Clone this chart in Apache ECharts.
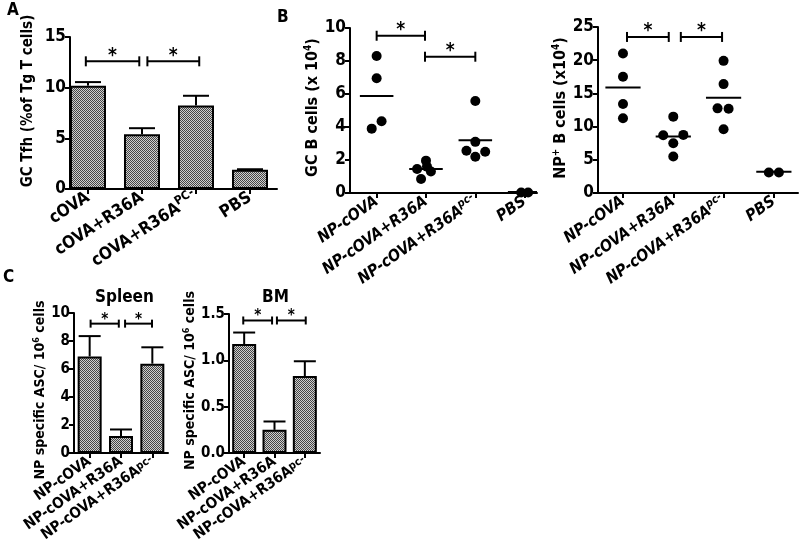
<!DOCTYPE html>
<html><head><meta charset="utf-8">
<script src="https://cdn.jsdelivr.net/npm/echarts@6/dist/echarts.min.js"></script>
<style>html,body{margin:0;padding:0;background:#fff}#c{width:800px;height:546px}</style>
</head><body><div id="c"></div>
<script>
// ---------- Data ----------
// Panel A: GC Tfh (% of Tg T cells)
const catsA = ['cOVA', 'cOVA+R36A', 'cOVA+R36A{sup|PC-}', 'PBS'];
const meanA = [10.2, 5.4, 8.25, 1.9];
const errA  = [0.35, 0.6, 0.95, 0.05];
const sigA  = [[0.96, 1.95, 12.6], [2.1, 3.06, 12.6]];

// Panel B (left): GC B cells (x10^4)
const catsB = ['NP-cOVA', 'NP-cOVA+R36A', 'NP-cOVA+R36A{sup|pc-}', 'PBS'];
const gcB1 = [8.3, 6.95, 4.35, 3.9];
const gcB2 = [1.96, 1.45, 0.85, 1.6, 1.3];
const gcB3 = [5.58, 3.1, 2.56, 2.5, 2.2];
const gcB4 = [0.03, 0.03];
const gcBJitter = [[0, 0, 0.1, -0.1], [0, -0.18, -0.1, 0.02, 0.1], [0, 0, -0.18, 0.2, 0], [-0.07, 0.07]];
const gcBMean = [5.88, 1.45, 3.2, 0.06];
const sigBL = [[1, 1.98, 9.53], [1.98, 3.0, 8.26]];

// Panel B (right): NP+ B cells (x10^4)
const npB1 = [21.0, 17.5, 13.4, 11.25];
const npB2 = [11.5, 8.7, 8.75, 7.5, 5.5];
const npB3 = [19.9, 16.4, 12.75, 12.7, 9.6];
const npB4 = [3.1, 3.1];
const npBJitter = [[0, 0, 0, 0], [0, -0.2, 0.2, 0, 0], [0, 0, -0.12, 0.1, 0], [-0.1, 0.1]];
const npBMean = [15.9, 8.5, 14.35, 3.2];
const sigBR = [[1.08, 1.91, 23.5], [2.15, 2.97, 23.5]];

// Panel C: NP specific ASC / 10^6 cells
const catsC = ['NP-cOVA', 'NP-cOVA+R36A', 'NP-cOVA+R36A{sup|pc-}'];
const spleenMean = [6.9, 1.22, 6.38];
const spleenErr  = [1.45, 0.46, 1.17];
const sigSpleen  = [[1.03, 1.93, 9.24], [2.13, 2.99, 9.24]];
const bmMean = [1.175, 0.25, 0.83];
const bmErr  = [0.125, 0.09, 0.16];
const sigBM  = [[0.97, 1.92, 1.43], [2.08, 3.03, 1.43]];

// ---------- Helpers ----------
function pickFont(list) {
  const c = document.createElement('canvas').getContext('2d');
  const t = 'NP specific ASC 0123456789';
  c.font = 'bold 20px monospace';
  const base = c.measureText(t).width;
  for (const f of list) {
    c.font = 'bold 20px "' + f + '", monospace';
    if (Math.abs(c.measureText(t).width - base) > 0.5) return f;
  }
  return 'sans-serif';
}
const F = pickFont(['Liberation Sans Narrow', 'Arial Narrow', 'DejaVu Sans Condensed', 'Liberation Sans']);

const pat = document.createElement('canvas');
pat.width = 2; pat.height = 2;
(function () {
  const g = pat.getContext('2d');
  g.fillStyle = '#cfcfcf'; g.fillRect(0, 0, 2, 2);
  g.fillStyle = '#454545'; g.fillRect(0, 0, 1, 1); g.fillRect(1, 1, 1, 1);
})();
const hatch = { image: pat, repeat: 'repeat' };

const supRich = (fs) => ({ sup: { fontSize: fs, fontWeight: 'bold', fontFamily: F, padding: [0, 0, Math.round(fs * 0.9), 0] } });
const supTight = (fs, lh) => ({ sup: { fontSize: fs, lineHeight: fs, fontWeight: 'bold', fontFamily: F, padding: [0, 0, lh - fs, 0] } });

function xAxisDef(grid, min, max, cats, fs, rot, italic, tight) {
  const vals = cats.map((_, i) => i + 1);
  const lab = {
    customValues: vals, rotate: rot, margin: 7, color: '#000',
    showMinLabel: true, showMaxLabel: true, hideOverlap: false,
    fontFamily: F, fontWeight: 'bold', fontSize: fs, fontStyle: italic ? 'italic' : 'normal',
    formatter: (v) => cats[Math.round(v) - 1] || '',
    rich: tight ? supTight(Math.round(fs * 0.7), fs) : supRich(Math.round(fs * 0.7))
  };
  if (tight) lab.lineHeight = fs;
  return {
    type: 'value', gridIndex: grid, min: min, max: max,
    axisLine: { show: true, onZero: false, lineStyle: { color: '#000', width: 2 } },
    axisTick: { show: true, customValues: vals, length: 5, lineStyle: { color: '#000', width: 2 } },
    axisLabel: lab,
    splitLine: { show: false }
  };
}
function yAxisDef(grid, max, interval, name, gap, fs, nfs, shift, fmt) {
  return {
    type: 'value', gridIndex: grid, min: 0, max: max, interval: interval,
    name: name, nameLocation: 'middle', nameRotate: 90, nameGap: gap,
    nameTextStyle: { color: '#000', fontFamily: F, fontWeight: 'bold', fontSize: nfs,
      padding: shift > 0 ? [0, 0, 0, shift] : [0, -shift, 0, 0],
      rich: supRich(Math.round(nfs * 0.65)) },
    axisLine: { show: true, lineStyle: { color: '#000', width: 2 } },
    axisTick: { show: true, length: 5, lineStyle: { color: '#000', width: 2 } },
    axisLabel: { color: '#000', fontFamily: F, fontWeight: 'bold', fontSize: fs, margin: 4, formatter: fmt,
      showMinLabel: true, showMaxLabel: true },
    splitLine: { show: false }
  };
}
function barSeries(i, means, bw) {
  return {
    type: 'bar', xAxisIndex: i, yAxisIndex: i, barWidth: bw,
    data: means.map((v, k) => [k + 1, v]),
    itemStyle: { color: hatch, borderColor: '#000', borderWidth: 2 },
    silent: true, animation: false
  };
}
function errSeries(i, means, errs, cap) {
  return {
    type: 'custom', xAxisIndex: i, yAxisIndex: i, animation: false, silent: true,
    data: means.map((v, k) => [k + 1, v, errs[k]]),
    renderItem: (p, api) => {
      const a = api.coord([api.value(0), api.value(1)]);
      const b = api.coord([api.value(0), api.value(1) + api.value(2)]);
      const st = { stroke: '#000', lineWidth: 2 };
      return { type: 'group', children: [
        { type: 'line', shape: { x1: a[0], y1: a[1], x2: b[0], y2: b[1] }, style: st },
        { type: 'line', shape: { x1: b[0] - cap, y1: b[1], x2: b[0] + cap, y2: b[1] }, style: st }
      ] };
    }
  };
}
function sigSeries(i, sig, h, sfs, lift) {
  return {
    type: 'custom', xAxisIndex: i, yAxisIndex: i, animation: false, silent: true, clip: false,
    data: sig,
    renderItem: (p, api) => {
      const a = api.coord([api.value(0), api.value(2)]);
      const b = api.coord([api.value(1), api.value(2)]);
      const st = { stroke: '#000', lineWidth: 2 };
      return { type: 'group', children: [
        { type: 'line', shape: { x1: a[0], y1: a[1], x2: b[0], y2: b[1] }, style: st },
        { type: 'line', shape: { x1: a[0], y1: a[1] - h, x2: a[0], y2: a[1] + h }, style: st },
        { type: 'line', shape: { x1: b[0], y1: b[1] - h, x2: b[0], y2: b[1] + h }, style: st },
        { type: 'text', style: { text: '*', x: (a[0] + b[0]) / 2, y: a[1] - lift, align: 'center', verticalAlign: 'middle',
          font: 'bold ' + sfs + 'px "' + F + '"', fill: '#000' } }
      ] };
    }
  };
}
function dotSeries(i, groups, jit) {
  const data = [];
  groups.forEach((g, k) => g.forEach((v, j) => data.push([k + 1 + jit[k][j], v])));
  return { type: 'scatter', xAxisIndex: i, yAxisIndex: i, symbolSize: 10, data: data,
    itemStyle: { color: '#000', opacity: 1 }, silent: true, animation: false };
}
function meanSeries(i, means, hw) {
  return {
    type: 'custom', xAxisIndex: i, yAxisIndex: i, animation: false, silent: true, clip: true,
    data: means.map((v, k) => [k + 1, v]),
    renderItem: (p, api) => {
      const a = api.coord([api.value(0) - hw, api.value(1)]);
      const b = api.coord([api.value(0) + hw, api.value(1)]);
      return { type: 'line', shape: { x1: a[0], y1: a[1], x2: b[0], y2: b[1] }, style: { stroke: '#000', lineWidth: 2 } };
    }
  };
}
const txt = (t, x, y, fs) => ({ type: 'text', left: x, top: y, style: { text: t, font: 'bold ' + fs + 'px "' + F + '"', fill: '#000' } });

const option = {
  backgroundColor: '#fff',
  animation: false,
  grid: [
    { left: 70, top: 37, width: 207, height: 152 },
    { left: 350, top: 28, width: 187, height: 165 },
    { left: 598, top: 27, width: 200, height: 166 },
    { left: 74, top: 313, width: 94, height: 140 },
    { left: 229, top: 314, width: 91, height: 139 }
  ],
  xAxis: [
    xAxisDef(0, 0.667, 4.5, catsA, 17, 33, false, false),
    xAxisDef(1, 0.46, 4.25, catsB, 16, 35, true, false),
    xAxisDef(2, 0.503, 4.48, catsB, 16, 35, true, false),
    xAxisDef(3, 0.5, 3.5, catsC, 15, 35, false, true),
    xAxisDef(4, 0.5, 3.5, catsC, 15, 35, false, true)
  ],
  yAxis: [
    yAxisDef(0, 15, 5, 'GC Tfh (%of Tg T cells)', 34, 17, 15, 24),
    yAxisDef(1, 10, 2, 'GC B cells (x 10{sup|4})', 16, 17, 16, 6),
    yAxisDef(2, 25, 5, 'NP{sup|+} B cells (x10{sup|4})', 21, 17, 16, 4),
    yAxisDef(3, 10, 2, 'NP specific ASC/ 10{sup|6} cells', 20, 15, 14, -14),
    yAxisDef(4, 1.5, 0.5, 'NP specific ASC/ 10{sup|6} cells', 29, 15, 14, 6, (v) => v.toFixed(1))
  ],
  graphic: [
    txt('A', 7, 2, 17), txt('B', 277, 9, 17), txt('C', 3, 269, 17),
    txt('Spleen', 95, 289, 17), txt('BM', 262, 289, 17)
  ],
  series: [
    barSeries(0, meanA, 36), errSeries(0, meanA, errA, 13), sigSeries(0, sigA, 5, 19, 5),
    dotSeries(1, [gcB1, gcB2, gcB3, gcB4], gcBJitter), meanSeries(1, gcBMean, 0.34), sigSeries(1, sigBL, 5, 19, 6),
    dotSeries(2, [npB1, npB2, npB3, npB4], npBJitter), meanSeries(2, npBMean, 0.35), sigSeries(2, sigBR, 5, 19, 6),
    barSeries(3, spleenMean, 24), errSeries(3, spleenMean, spleenErr, 11), sigSeries(3, sigSpleen, 4, 15, 4),
    barSeries(4, bmMean, 24), errSeries(4, bmMean, bmErr, 11), sigSeries(4, sigBM, 4, 15, 4)
  ]
};
const chart = echarts.init(document.getElementById('c'), null, { renderer: 'canvas' });
chart.setOption(option);
</script></body></html>
